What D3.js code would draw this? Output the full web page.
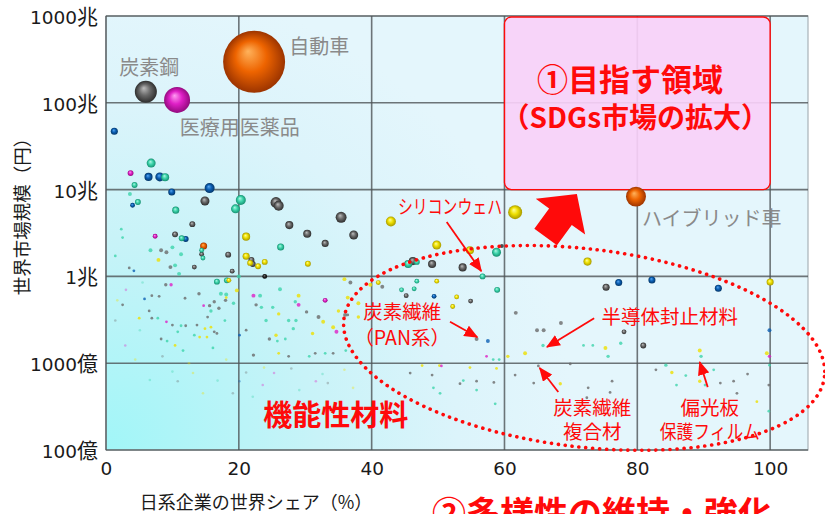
<!DOCTYPE html>
<html><head><meta charset="utf-8">
<script src="https://cdn.jsdelivr.net/npm/d3@7"></script>
<style>
body{margin:0;background:#fff}
svg{display:block}
.jp{font-family:"Noto Sans CJK JP","Noto Sans",sans-serif}
.tick text{font-family:"DejaVu Sans","Noto Sans CJK JP",sans-serif;font-size:18.5px;fill:#1a1a1a}
</style>
</head><body>
<svg id="chart" width="825" height="514"></svg>
<script>
// Axis ticks
const xTicks = [0, 20, 40, 60, 80, 100];
const yTicks = [0.01, 0.1, 1, 10, 100, 1000];            // market size in 兆円
const yTickLabels = ["100億", "1000億", "1兆", "10兆", "100兆", "1000兆"];

// Products: [日系企業の世界シェア %, 世界市場規模 兆円, bubble size]
const gray = [
  [6.0,134,126],
  [14.9,7.4,21],[25.6,7.1,31],[26.0,6.5,26],[35.4,4.8,31],[37.3,3.0,21],[27.6,3.9,17],[30.3,3.1,17],
  [33.0,2.4,13],[13.0,4.0,9],[10.4,3.05,9],[14.4,1.8,6],[18.4,1.78,9],[8.3,2.0,4],[9.1,1.9,4],
  [9.7,1.28,4],[13.3,1.28,6],[19.0,1.15,6],[3.5,1.25,2],[21.9,1.55,9],[22.1,1.39,9],[46.2,1.5,17],
  [49.1,1.39,17],[53.7,1.27,17],[75.3,0.75,13],
  [36.8,0.85,4],[41.6,0.76,4],[45.2,0.6,6],[54.9,0.52,6],[61.7,0.38,4],[55.8,0.19,4],[64.9,0.24,4],
  [65.9,0.24,4],[68.5,0.29,4],[78.0,0.23,6],[80.9,0.16,9],
  [36.0,0.36,4],[32.0,0.34,4],[30.2,0.39,3],[9.0,0.8,3],[18.0,0.53,3],[16.3,0.51,3],[15.6,0.46,3],
  [17.0,0.43,3],[14.0,0.63,3],[11.9,0.56,2],[8.0,0.59,2],[6.9,0.6,2],[6.5,0.4,2],[6.9,0.33,2],
  [15.3,0.34,2],[13.7,0.275,2],[12.0,0.27,2],[10.0,0.275,2],[16.3,0.23,2],[16.7,0.22,2],[8.3,0.19,2],
  [22.6,0.47,3],[24.6,0.19,3],[21.1,0.24,2],[22.2,0.124,3],[27.5,0.12,2],[31.5,0.13,2],[34.2,0.13,2],
  [36.4,0.36,2],[2.5,0.47,2],
  [65.1,0.093,2],[69.9,0.098,2],[82.8,0.084,2],[96.6,0.075,2],[61.6,0.073,2],[64.4,0.059,2],
  [72.6,0.052,2],[76.2,0.062,2],[92.5,0.059,2],[94.5,0.062,2],[95.0,0.045,2],[99.8,0.056,2],
  [45.8,0.077,2],[49.1,0.073,2],[53.3,0.058,2],[55.8,0.062,2],[58.4,0.06,2],[72.4,0.04,2],[75.9,0.046,2]
];
const black = [[23.9,1.0,6],[59.6,2.24,4]];
const blue = [
  [1.25,47,13],[6.4,14.0,17],[8.1,14.0,21],[9.9,9.4,13],[15.6,10.4,26],[4.0,6.6,6],[12.0,2.7,9],
  [4.2,1.16,2],[77.2,0.85,13],[82.2,0.91,13],[92.2,0.73,13],[49.4,0.59,6],[57.5,0.18,4],
  [99.9,0.24,4],[5.8,0.55,2],[20.1,0.21,2]
];
const teal = [
  [6.8,20.2,21],[8.9,13.9,17],[4.3,11.3,9],[3.6,8.9,4],[4.8,7.2,9],[20.3,7.6,26],[19.5,6.0,21],
  [10.5,5.8,13],[2.3,3.5,2],[2.5,2.8,2],[11.4,2.75,9],[14.4,2.0,6],[14.6,1.63,6],[6.7,2.0,4],
  [10.0,2.16,4],[11.3,1.8,4],[10.4,1.34,4],[11.0,1.07,4],[1.4,1.72,2],[20.0,1.0,4],[26.3,2.18,13],
  [45.5,1.39,17],[46.8,1.47,9],[58.8,1.9,21],[56.7,1.0,9],[46.8,0.88,6],[44.5,0.70,6],[46.4,0.72,6],
  [58.9,0.70,9],[16.7,0.87,9],[18.2,0.9,9],[17.3,0.63,4],[18.1,0.62,4],[19.2,0.49,3],[15.8,0.40,3],
  [7.8,0.33,2],[17.9,0.31,2],[11.3,0.27,2],[13.3,0.21,2],[10.8,0.23,2],[9.2,0.18,2],[16.1,0.15,2],
  [11.6,0.14,2],[23.2,0.6,4],[23.4,0.44,3],[25.1,0.44,3],[26.2,0.71,4],[28.5,0.51,3],[24.1,0.31,3],
  [27.5,0.31,3],[28.6,0.31,3],[28.2,0.25,3],[27.0,0.19,2],[25.8,0.18,2],[30.6,0.12,2],[33.0,0.13,2],
  [36.1,0.14,2],[65.8,0.16,3],[71.9,0.16,2],[73.3,0.16,2],[75.6,0.12,3],[77.5,0.17,3],[89.6,0.12,3],
  [84.3,0.095,3],[87.3,0.072,2],[91.5,0.084,2],[85.9,0.056,2],[90.2,0.056,2],[99.8,0.028,2],
  [99.9,0.095,2],[53.8,0.063,2],[49.3,0.052,2],[50.3,0.045,2],[55.8,0.049,2],[58.6,0.034,2],
  [58.3,0.11,2],[59.2,0.11,2]
];
const yellow = [
  [42.9,4.3,26],[61.6,5.5,51],[49.8,2.3,21],[54.8,2.0,17],[72.5,1.48,17],[100,0.86,13],[21.1,2.87,17],
  [21.1,1.71,13],[21.7,1.43,9],[22.9,1.31,9],[23.9,1.47,9],[7.9,1.55,4],[30.4,1.4,9],[35.9,0.93,4],
  [41.0,0.85,6],[39.8,0.80,4],[49.8,0.88,6],[52.8,0.58,6],[52.2,0.45,6],[29.0,0.6,4],[32.7,0.30,4],
  [34.2,0.26,4],[38.0,0.49,4],[36.4,0.57,4],[38.0,0.34,3],[18.5,0.9,6],[19.7,0.69,4],[18.1,0.57,2],
  [14.9,0.25,2],[15.8,0.26,2],[15.2,0.2,2],[14.1,0.2,2],[10.4,0.16,2],[5.0,0.33,2],[26.0,0.37,3],
  [25.6,0.21,3],[31.1,0.22,3],[26.0,0.13,2],[35.0,0.40,3],[63.1,0.13,4],[60.5,0.12,3],[75.2,0.15,4],
  [89.4,0.14,4],[99.5,0.13,4],[85.2,0.078,3],[68.4,0.058,3],[89.4,0.062,3],[98.0,0.036,2],
  [47.6,0.094,2],[50.2,0.094,2],[54.8,0.089,2],[58.8,0.087,2]
];
const magenta = [
  [10.7,108,176],[3.7,15.5,9],[7.4,2.9,6],[9.8,0.80,3],[14.7,0.46,2],[9.1,0.30,2],[22.2,0.6,4],
  [29.0,0.47,4],[33.0,0.53,6],[34.7,0.23,4],[99.9,0.12,3],[57.3,0.12,2],[50.5,0.093,2]
];
const orange = [[22.3,297,1000],[79.8,8.3,104],[14.7,2.24,13]];
// Small products drawn pale: [share, market, group]
const faint = [
  [10.0,0.08,"teal"],[13.1,0.077,"yellow"],[10.8,0.062,"gray"],[16.8,0.063,"teal"],[14.6,0.045,"yellow"],
  [19.1,0.045,"gray"],[22.1,0.041,"teal"],[23.6,0.056,"magenta"],[29.1,0.049,"teal"],[27.9,0.087,"gray"],
  [25.3,0.077,"magenta"],[23.8,0.089,"yellow"],[21.1,0.078,"gray"],[18.1,0.11,"yellow"],[20.1,0.062,"blue"],
  [31.6,0.062,"magenta"],[33.4,0.059,"gray"],[37.2,0.052,"yellow"],[32.6,0.075,"teal"],[35.9,0.084,"yellow"],
  [6.6,0.064,"teal"],[4.4,0.11,"yellow"],[2.9,0.16,"magenta"],[5.1,0.24,"teal"],[1.7,0.53,"yellow"],
  [1.4,0.31,"gray"],[3.0,0.7,"magenta"],[5.5,0.85,"teal"],[8.5,0.12,"gray"],[12.5,0.10,"yellow"]
];

const palette = {
  gray:    {base:"#6a6a6a", hi:"#bdbdbd", lo:"#2e2e2e"},
  black:   {base:"#262626", hi:"#777777", lo:"#000000"},
  blue:    {base:"#0b5fb4", hi:"#5aa8f2", lo:"#033668"},
  teal:    {base:"#3dd4ab", hi:"#b2f7e4", lo:"#159070"},
  yellow:  {base:"#eee000", hi:"#ffff9c", lo:"#a89a00"},
  magenta: {base:"#df1fc6", hi:"#ff9cf2", lo:"#930a7e"},
  orange:  {base:"#ee6400", hi:"#ffb35c", lo:"#9c3400"}
};
const groups = {gray, black, blue, teal, yellow, magenta, orange};

const svg = d3.select("#chart");
const x = d3.scaleLinear().domain([0, 105.7]).range([106, 808]);
const y = d3.scaleLog().domain([0.01, 1000]).range([450, 16]);
const rad = d3.scaleSqrt().domain([0, 1000]).range([0, 31]);
const P = (s, m) => [x(s), y(m)];
const RED = "#ff0a0a";

const defs = svg.append("defs");
const bg = defs.append("radialGradient").attr("id", "plotBg")
  .attr("gradientUnits", "userSpaceOnUse")
  .attr("cx", x(0)).attr("cy", y(0.01)).attr("r", 470);
[[0, "#a1f6f8"], [0.45, "#c8f3f8"], [0.75, "#dcf4fb"], [1, "#e4f6fc"]]
  .forEach(([o, c]) => bg.append("stop").attr("offset", o).attr("stop-color", c));

Object.entries(palette).forEach(([k, c]) => {
  const g = defs.append("radialGradient").attr("id", "sph-" + k)
    .attr("cx", 0.5).attr("cy", 0.5).attr("r", 0.5).attr("fx", 0.4).attr("fy", 0.33);
  g.append("stop").attr("offset", 0).attr("stop-color", c.hi);
  g.append("stop").attr("offset", 0.5).attr("stop-color", c.base);
  g.append("stop").attr("offset", 1).attr("stop-color", c.lo);
});

defs.append("marker").attr("id", "head")
  .attr("viewBox", "0 0 12 10").attr("refX", 11).attr("refY", 5)
  .attr("markerWidth", 14).attr("markerHeight", 12).attr("markerUnits", "userSpaceOnUse")
  .attr("orient", "auto")
  .append("path").attr("d", "M0,0 L12,5 L0,10 Z").attr("fill", RED);

// plot background
const [x0, x1] = x.range(), [yb, yt] = y.range();
svg.append("rect").attr("x", x0).attr("y", yt).attr("width", x1 - x0).attr("height", yb - yt)
  .attr("fill", "url(#plotBg)").attr("stroke", "#a9b3b8").attr("stroke-width", 1.2);

// grid
const grid = svg.append("g").attr("stroke", "#4e5456").attr("stroke-width", 1.6).attr("stroke-opacity", 0.8);
grid.selectAll("line.h").data(yTicks).join("line").attr("class", "h")
  .attr("x1", x0).attr("x2", x1).attr("y1", d => y(d)).attr("y2", d => y(d));
grid.selectAll("line.v").data(xTicks).join("line").attr("class", "v")
  .attr("y1", yt).attr("y2", yb).attr("x1", d => x(d)).attr("x2", d => x(d));

// target region box
svg.append("rect")
  .attr("x", x(60)).attr("y", y(1000) + 1).attr("width", x(100) - x(60)).attr("height", y(10) - y(1000) - 1)
  .attr("rx", 7).attr("fill", "#f8d0f8").attr("fill-opacity", 0.92)
  .attr("stroke", RED).attr("stroke-width", 1.4);

// axes
const ax = svg.append("g").attr("transform", `translate(0,${yb})`)
  .call(d3.axisBottom(x).tickValues(xTicks).tickSize(0).tickPadding(12));
ax.select(".domain").remove();
const ay = svg.append("g").attr("transform", `translate(${x0},0)`)
  .call(d3.axisLeft(y).tickValues(yTicks).tickSize(0).tickPadding(8)
    .tickFormat((d, i) => yTickLabels[i]));
ay.select(".domain").remove();
// numerals and unit kanji set at slightly different sizes
ay.selectAll("text").attr("dy", "0.4em").each(function () {
  const t = d3.select(this), s = t.text(), m = s.match(/^(\d+)(.*)$/);
  t.text(null);
  t.append("tspan").text(m[1]);
  t.append("tspan").attr("font-size", "21px").text(m[2]);
});

svg.append("text").attr("class", "jp").attr("x", 256).attr("y", 509)
  .attr("text-anchor", "middle").attr("font-size", 18).attr("fill", "#1a1a1a")
  .text("日系企業の世界シェア（%）");
svg.append("text").attr("class", "jp")
  .attr("transform", "translate(29,212) rotate(-90)")
  .attr("text-anchor", "middle").attr("font-size", 18.5).attr("fill", "#1a1a1a")
  .text("世界市場規模（円）");

// pale small products
svg.append("g").selectAll("circle").data(faint).join("circle")
  .attr("cx", d => x(d[0])).attr("cy", d => y(d[1])).attr("r", 1.3)
  .attr("fill", d => palette[d[2]].base).attr("fill-opacity", 0.35);

// product bubbles
const pts = [];
Object.entries(groups).forEach(([k, arr]) => arr.forEach(d => pts.push({k, s: d[0], m: d[1], w: d[2]})));
pts.sort((a, b) => b.w - a.w);
svg.append("g").selectAll("circle").data(pts).join("circle")
  .attr("cx", d => x(d.s)).attr("cy", d => y(d.m)).attr("r", d => rad(d.w))
  .attr("fill", d => rad(d.w) <= 2.2 ? palette[d.k].base : `url(#sph-${d.k})`)
  .attr("fill-opacity", d => rad(d.w) <= 2.2 ? 0.8 : 1);

// product name labels
const grayLabels = [
  {t: "炭素鋼", s: 6.5, m: 252, a: "middle"},
  {t: "医療用医薬品", s: 11.1, m: 51, a: "start"},
  {t: "自動車", s: 27.6, m: 440, a: "start"},
  {t: "ハイブリッド車", s: 80.7, m: 4.6, a: "start"}
];
svg.append("g").attr("class", "jp").selectAll("text").data(grayLabels).join("text")
  .attr("x", d => x(d.s)).attr("y", d => y(d.m)).attr("dy", "0.36em")
  .attr("text-anchor", d => d.a).attr("font-size", 20).attr("fill", "#8a8a8a")
  .text(d => d.t);

const redLabels = [
  {t: "シリコンウェハ", s: 51.8, m: 6.3, len: 104},
  {t: "炭素繊維", s: 44.6, m: 0.39},
  {t: "（PAN系）", s: 44.6, m: 0.195},
  {t: "半導体封止材料", s: 84.9, m: 0.34},
  {t: "炭素繊維", s: 73.2, m: 0.0305},
  {t: "複合材", s: 73.2, m: 0.0161},
  {t: "偏光板", s: 90.9, m: 0.0307},
  {t: "保護フィルム", s: 90.9, m: 0.0161, len: 100}
];
svg.append("g").attr("class", "jp").selectAll("text").data(redLabels).join("text")
  .attr("x", d => x(d.s)).attr("y", d => y(d.m)).attr("dy", "0.36em")
  .attr("text-anchor", "middle").attr("font-size", 19.5).attr("fill", RED)
  .each(function (d) { if (d.len) d3.select(this).attr("textLength", d.len).attr("lengthAdjust", "spacingAndGlyphs"); })
  .text(d => d.t);

// pointer arrows
const arrows = [
  [[51.3, 4.24], [56.5, 1.15]],
  [[51.8, 0.30], [55.9, 0.20]],
  [[73.5, 0.33], [66.4, 0.154]],
  [[68.1, 0.0466], [65.3, 0.088]],
  [[90.6, 0.053], [89.4, 0.103]]
];
svg.append("g").selectAll("line").data(arrows).join("line")
  .attr("x1", d => x(d[0][0])).attr("y1", d => y(d[0][1]))
  .attr("x2", d => x(d[1][0])).attr("y2", d => y(d[1][1]))
  .attr("stroke", RED).attr("stroke-width", 1.8).attr("marker-end", "url(#head)");

// dotted ellipse around functional materials
const [ecx, ecy] = P(72.0, 0.15);
svg.append("ellipse").attr("cx", ecx).attr("cy", ecy).attr("rx", 242).attr("ry", 99)
  .attr("transform", `rotate(6.8,${ecx},${ecy})`)
  .attr("fill", "none").attr("stroke", RED).attr("stroke-width", 3.6)
  .attr("stroke-dasharray", "0.1 6.9").attr("stroke-linecap", "round");

// block arrow towards the target region
const [bx, by] = P(66.2, 2.84), [tx, ty] = P(70.9, 8.9);
const L = Math.hypot(tx - bx, ty - by), ang = Math.atan2(ty - by, tx - bx) * 180 / Math.PI;
const hb = L - 28;
svg.append("path")
  .attr("d", `M0,-14 L${hb},-14 L${hb},-30.5 L${L},0 L${hb},30.5 L${hb},14 L0,14 Z`)
  .attr("transform", `translate(${bx},${by}) rotate(${ang})`)
  .attr("fill", RED);

// region titles
const [c1x, c1y] = P(78.9, 183), [c2x, c2y] = P(79.7, 67);
svg.append("text").attr("class", "jp").attr("x", c1x).attr("y", c1y).attr("dy", "0.36em")
  .attr("text-anchor", "middle").attr("font-size", 31).attr("font-weight", 700).attr("fill", RED)
  .text("①目指す領域");
svg.append("text").attr("class", "jp").attr("x", c2x).attr("y", c2y).attr("dy", "0.36em")
  .attr("text-anchor", "middle").attr("font-size", 28).attr("font-weight", 700).attr("fill", RED)
  .text("（SDGs市場の拡大）");
const [fx, fy] = P(34.6, 0.0247);
svg.append("text").attr("class", "jp").attr("x", fx).attr("y", fy).attr("dy", "0.36em")
  .attr("text-anchor", "middle").attr("font-size", 29).attr("font-weight", 700).attr("fill", RED)
  .text("機能性材料");
svg.append("text").attr("class", "jp").attr("x", 432).attr("y", 526)
  .attr("font-size", 34).attr("font-weight", 700).attr("fill", RED)
  .text("②多様性の維持・強化");
</script>
</body></html>
